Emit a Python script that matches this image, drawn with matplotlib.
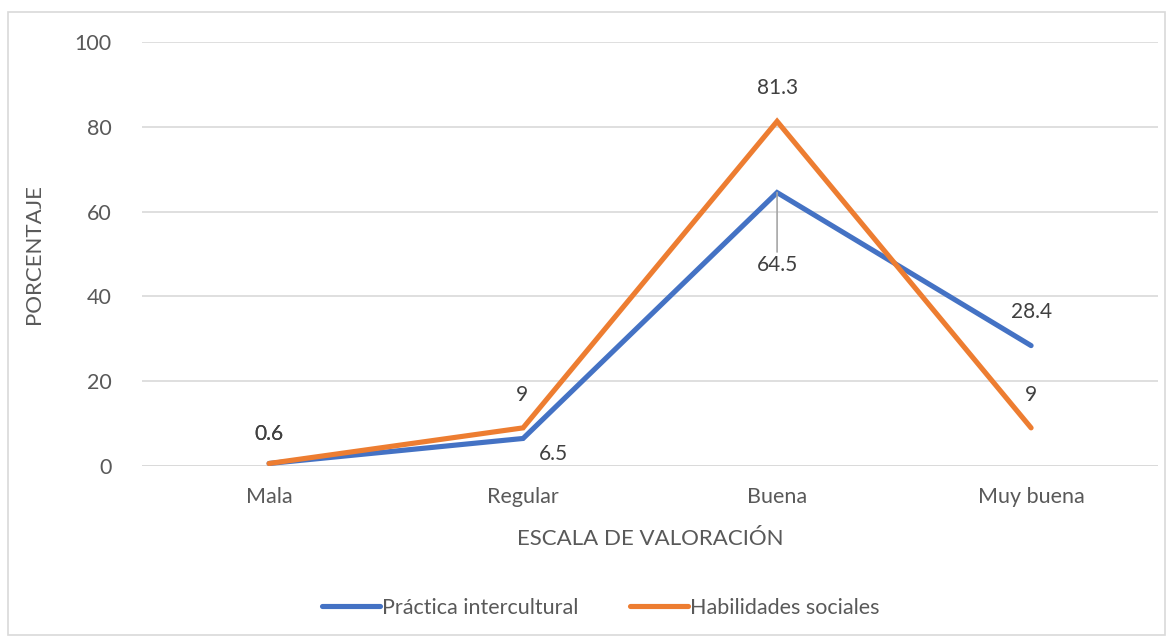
import matplotlib
matplotlib.use("Agg")
import matplotlib.pyplot as plt
from matplotlib.patches import Rectangle

categories = ["Mala", "Regular", "Buena", "Muy buena"]
practica = [0.6, 6.5, 64.5, 28.4]
habilidades = [0.6, 9, 81.3, 9]
series_names = ["Práctica intercultural", "Habilidades sociales"]
yticks = [0, 20, 40, 60, 80, 100]

BLUE = "#4472C4"
ORANGE = "#ED7D31"
TXT = "#595959"
GRID = "#D9D9D9"

plt.rcParams["font.family"] = ["Lato", "DejaVu Sans"]

fig = plt.figure(figsize=(11.73, 6.39), dpi=100)
ax = fig.add_axes([0.1211, 0.2707, 0.8662, 0.6635])

# light border around the whole chart like Excel
fig.patches.append(Rectangle((8 / 1173, 4 / 639), 1157 / 1173, 623 / 639,
                             transform=fig.transFigure, fill=False,
                             edgecolor=GRID, linewidth=1.2))

x = list(range(len(categories)))
ax.plot(x, practica, color=BLUE, linewidth=3.7, solid_capstyle="round",
        solid_joinstyle="miter", label=series_names[0], zorder=3)
ax.plot(x, habilidades, color=ORANGE, linewidth=3.7, solid_capstyle="round",
        solid_joinstyle="miter", label=series_names[1], zorder=4)

ax.set_xlim(-0.5, len(categories) - 0.5)
ax.set_ylim(0, 100)
ax.set_yticks(yticks)
ax.set_xticks(x)
ax.set_xticklabels(categories)
ax.yaxis.grid(True, color=GRID, linewidth=1.2)
ax.set_axisbelow(True)
for s in ax.spines.values():
    s.set_visible(False)
ax.axhline(0, color=GRID, linewidth=1.2, zorder=1)
ax.tick_params(length=0, labelsize=15.5, labelcolor=TXT)
ax.tick_params(axis="y", pad=22)
ax.tick_params(axis="x", pad=15)

ax.set_ylabel("PORCENTAJE", fontsize=16, color=TXT, labelpad=22)
ax.set_xlabel("ESCALA DE VALORACIÓN", fontsize=16, color=TXT, labelpad=16)

lab = dict(fontsize=15, color="#404040", ha="center", va="center")
# Práctica intercultural labels
ax.annotate(f"{practica[0]:g}", (x[0], practica[0]), xytext=(0, 21), textcoords="offset points", **lab)
ax.annotate(f"{practica[1]:g}", (x[1], practica[1]), xytext=(22, -11), textcoords="offset points", **lab)
ax.annotate(f"{practica[2]:g}", (x[2], practica[2]), xytext=(0, -52), textcoords="offset points",
            arrowprops=dict(arrowstyle="-", color="#A6A6A6", lw=1.2, shrinkA=0, shrinkB=0,
                            relpos=(0.5, 1.0)), **lab)
ax.annotate(f"{practica[3]:g}", (x[3], practica[3]), xytext=(0, 24), textcoords="offset points", **lab)
# Habilidades sociales labels
ax.annotate(f"{habilidades[0]:g}", (x[0], habilidades[0]), xytext=(0, 21), textcoords="offset points", **lab)
ax.annotate(f"{habilidades[1]:g}", (x[1], habilidades[1]), xytext=(-1, 24), textcoords="offset points", **lab)
ax.annotate(f"{habilidades[2]:g}", (x[2], habilidades[2]), xytext=(0, 24), textcoords="offset points", **lab)
ax.annotate(f"{habilidades[3]:g}", (x[3], habilidades[3]), xytext=(0, 24), textcoords="offset points", **lab)

leg = fig.legend(loc="center", bbox_to_anchor=(0.512, 0.049), ncol=2, frameon=False,
                 fontsize=15.5, handlelength=2.7, handletextpad=0.1, columnspacing=2.4)
for t in leg.get_texts():
    t.set_color(TXT)

fig.savefig("out.png", dpi=100)
